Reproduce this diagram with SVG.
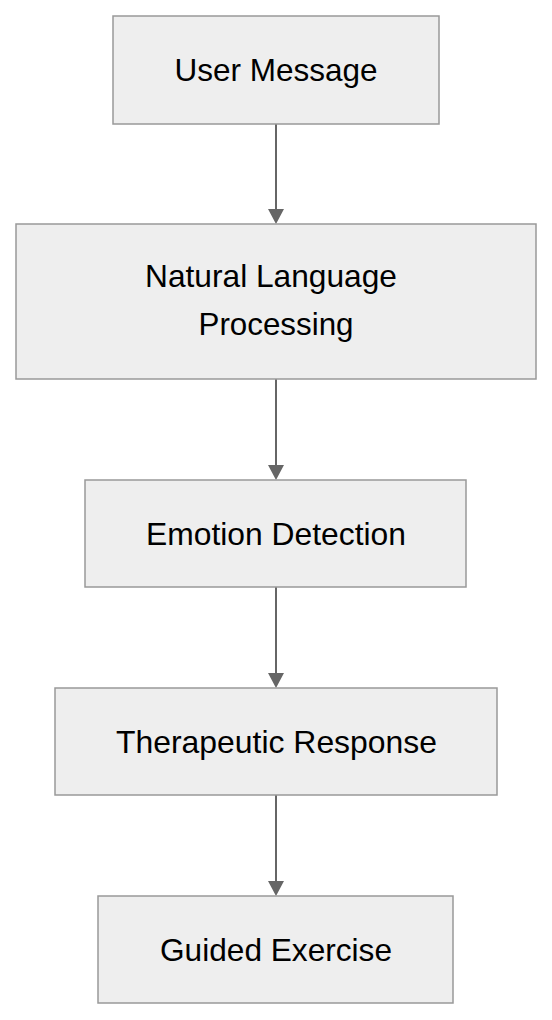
<svg xmlns="http://www.w3.org/2000/svg" width="552" height="1020" viewBox="0 0 552 1020">
  <style>
    .box { fill: #eeeeee; stroke: #999999; stroke-width: 1.5; }
    .lbl { font-family: "Liberation Sans", Arial, sans-serif; font-size: 32px; fill: #000000; text-anchor: middle; }
    .edge { stroke: #666666; stroke-width: 2; fill: none; }
    .head { fill: #666666; }
  </style>
  <rect width="552" height="1020" fill="#ffffff"/>
  <g id="connectors">
    <line class="edge" x1="276" y1="124" x2="276" y2="212"/>
    <polygon class="head" points="268,209 284,209 276,224"/>
    <line class="edge" x1="276" y1="379" x2="276" y2="468"/>
    <polygon class="head" points="268,465 284,465 276,480"/>
    <line class="edge" x1="276" y1="587" x2="276" y2="676"/>
    <polygon class="head" points="268,673 284,673 276,688"/>
    <line class="edge" x1="276" y1="795" x2="276" y2="884"/>
    <polygon class="head" points="268,881 284,881 276,896"/>
  </g>
  <g id="user-message">
    <rect class="box" x="113" y="16" width="326" height="108"/>
    <text class="lbl" x="276" y="81" textLength="203" lengthAdjust="spacingAndGlyphs">User Message</text>
  </g>
  <g id="nlp">
    <rect class="box" x="16" y="224" width="520" height="155"/>
    <text class="lbl" x="271" y="287" textLength="252" lengthAdjust="spacingAndGlyphs">Natural Language</text>
    <text class="lbl" x="276" y="335" textLength="155" lengthAdjust="spacingAndGlyphs">Processing</text>
  </g>
  <g id="emotion-detection">
    <rect class="box" x="85" y="480" width="381" height="107"/>
    <text class="lbl" x="276" y="545" textLength="260" lengthAdjust="spacingAndGlyphs">Emotion Detection</text>
  </g>
  <g id="therapeutic-response">
    <rect class="box" x="55" y="688" width="442" height="107"/>
    <text class="lbl" x="276.5" y="753" textLength="321" lengthAdjust="spacingAndGlyphs">Therapeutic Response</text>
  </g>
  <g id="guided-exercise">
    <rect class="box" x="98" y="896" width="355" height="107"/>
    <text class="lbl" x="276" y="961" textLength="232" lengthAdjust="spacingAndGlyphs">Guided Exercise</text>
  </g>
</svg>
